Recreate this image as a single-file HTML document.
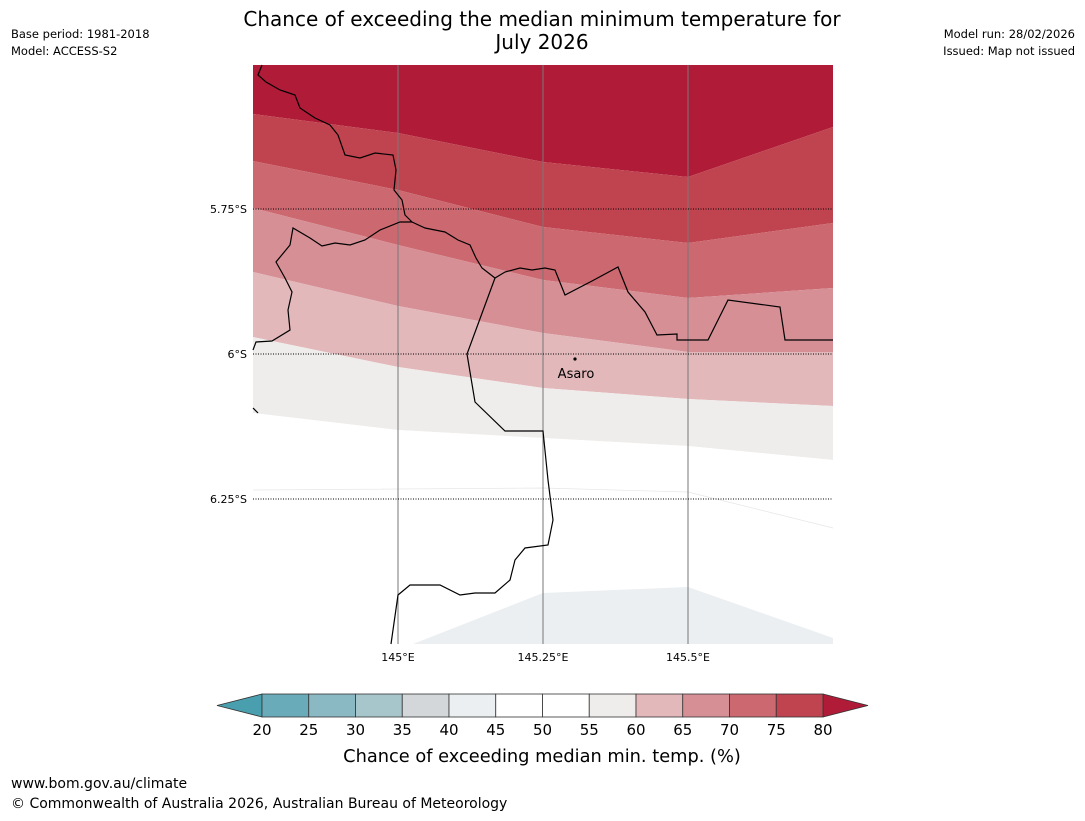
<!DOCTYPE html>
<html><head><meta charset="utf-8"><style>
body{margin:0;background:#fff;font-family:"Liberation Sans",sans-serif;}
svg text{font-family:"DejaVu Sans","Liberation Sans",sans-serif;}
</style></head><body>
<svg id="s" width="1085" height="816" xmlns="http://www.w3.org/2000/svg">
<text x="542" y="26" font-size="20" text-anchor="middle">Chance of exceeding the median minimum temperature for</text>
<text x="542" y="49" font-size="20" text-anchor="middle">July 2026</text>
<text x="11" y="38" font-size="11.5">Base period: 1981-2018</text>
<text x="11" y="55" font-size="11.5">Model: ACCESS-S2</text>
<text x="1075" y="38" font-size="11.5" text-anchor="end">Model run: 28/02/2026</text>
<text x="1075" y="55" font-size="11.5" text-anchor="end">Issued: Map not issued</text>
<g id="map"></g>
<g id="cb"></g>
<text x="542" y="762" font-size="17.8" text-anchor="middle">Chance of exceeding median min. temp. (%)</text>
<text x="11" y="788" font-size="14">www.bom.gov.au/climate</text>
<text x="11" y="808" font-size="14">© Commonwealth of Australia 2026, Australian Bureau of Meteorology</text>
</svg>
<script>
// band boundaries (y at each grid longitude column), top to bottom
const columnsX = [253, 398, 543, 688, 833];
const bandColors = ["#b01c38","#c0444f","#cb6870","#d68f95","#e2b8bb","#efedeb","#ffffff"];
const bandNames = ["80-plus","75-80","70-75","65-70","60-65","55-60","45-55"];
const boundaries = [
 [65,65,65,65,65],
 [114,133,162,177,127],
 [161,190,227,243,223],
 [208,245,280,298,288],
 [272,306,333,352,352],
 [337,367,388,399,406],
 [413,430,438,446,460],
 [644,644,644,644,644]];
const cbTicks = [20,25,30,35,40,45,50,55,60,65,70,75,80];
const cbColors = ["#6aabb9","#8ab8c3","#a7c6cc","#d3d7d9","#ebeff1","#ffffff","#ffffff","#efedeb","#e2b8bb","#d68f95","#cb6870","#c0444f"];
const latTicks = ["5.75°S","6°S","6.25°S"], latY=[209,354,499];
const lonTicks = ["145°E","145.25°E","145.5°E"], lonX=[398,543,688];

const NS="http://www.w3.org/2000/svg";
function mk(t,a,p){const e=document.createElementNS(NS,t);for(const k in a)e.setAttribute(k,a[k]);p.appendChild(e);return e;}
const map=document.getElementById('map');
for(let i=0;i<bandColors.length;i++){
  const top=boundaries[i],bot=boundaries[i+1];
  let pts=columnsX.map((x,j)=>x+','+top[j]).concat(columnsX.slice().reverse().map((x,j)=>x+','+bot[4-j]));
  const p=mk('polygon',{points:pts.join(' '),fill:bandColors[i]},map);
  
  
}
const blue=mk('polygon',{points:"413,644 543,593 688,587 833,638 833,644",fill:"#ebeff1"},map);


const faint=mk('polyline',{points:"253,490 543,488 688,492 833,528",fill:"none",stroke:"#e6e6e6","stroke-width":0.7},map);


lonX.forEach((x,i)=>{
  const l=mk('line',{x1:x,y1:65,x2:x,y2:644,stroke:"#777","stroke-width":1},map);
  
  
  const t=mk('text',{x:x,y:661,"font-size":11,"text-anchor":"middle"},map);t.textContent=lonTicks[i];
  
  
});
latY.forEach((y,i)=>{
  const l=mk('line',{x1:253,y1:y,x2:833,y2:y,stroke:"#000","stroke-width":1,"stroke-dasharray":"1,1.5"},map);
  
  
  const t=mk('text',{x:247,y:y+4,"font-size":11,"text-anchor":"end"},map);t.textContent=latTicks[i];
  
  
});
const coasts=["262,65 258,75 266,82 280,90 295,95 300,108 315,118 330,125 338,135 345,155 360,158 375,153 393,155 396,170 394,190 402,200 405,215 412,222 400,222 380,230 365,240 350,245 335,243 322,246 310,238 293,228 290,245 276,262 285,278 292,292 288,310 290,330 272,341 256,342 253,350",
"412,222 425,228 445,232 458,240 470,245 476,258 482,268 495,278 505,272 520,268 532,270 545,268 555,270 565,295 592,281 618,267 628,292 645,312 657,335 677,334 677,340 708,340 728,300 780,307 785,340 833,340",
"495,278 481,316 467,354 475,402 505,431 543,431 548,480 553,520 548,545 525,548 515,560 510,580 495,593 475,593 460,595 440,585 410,585 398,595 391,644",
"253,408 258,413"];
coasts.forEach(c=>{
  const p=mk('polyline',{points:c,fill:"none",stroke:"#000","stroke-width":1.2},map);
  
  
});
const dot=mk('circle',{cx:575,cy:359,r:1.6,fill:"#000"},map);


const at=mk('text',{x:576,y:378,"font-size":13,"text-anchor":"middle"},map);at.textContent="Asaro";



const cb=document.getElementById('cb');
const x0=262,x1=823,y0=694,y1=717;
const sx=v=>x0+(v-cbTicks[0])/(cbTicks[cbTicks.length-1]-cbTicks[0])*(x1-x0);
const lt=mk('polygon',{points:`${x0},${y0} ${x0},${y1} 217,705.5`,fill:"#4a9fae",stroke:"#333","stroke-width":0.8},cb);


const rt=mk('polygon',{points:`${x1},${y0} ${x1},${y1} 868,705.5`,fill:"#b01c38",stroke:"#333","stroke-width":0.8},cb);


cbColors.forEach((c,i)=>{
  const r=mk('rect',{x:sx(cbTicks[i]),y:y0,width:sx(cbTicks[i+1])-sx(cbTicks[i]),height:y1-y0,fill:c,stroke:"#333","stroke-width":0.8},cb);
  
  
});
cbTicks.forEach(v=>{
  const t=mk('text',{x:sx(v),y:735,"font-size":15,"text-anchor":"middle"},cb);t.textContent=v;
  
  
});
</script>
</body></html>
